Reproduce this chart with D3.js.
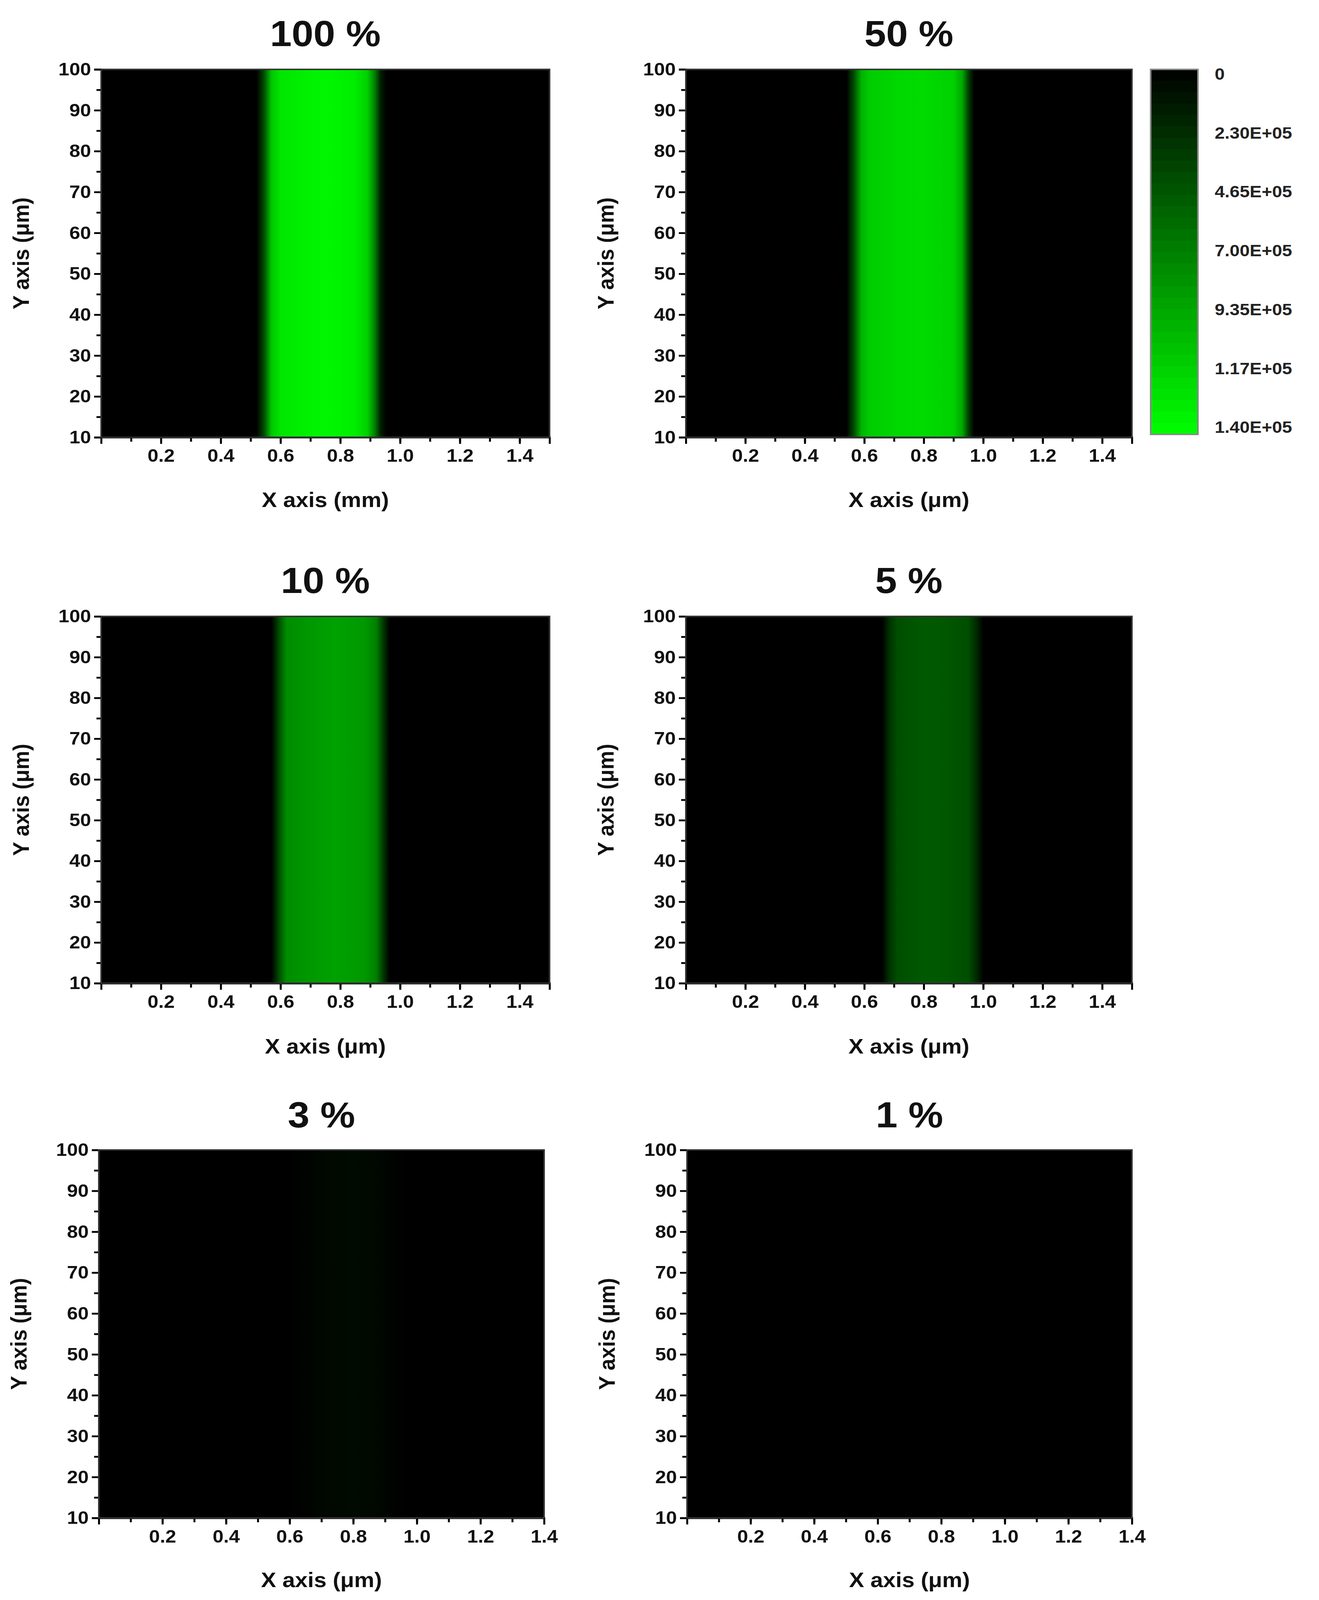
<!DOCTYPE html>
<html><head><meta charset="utf-8">
<script src="https://cdn.jsdelivr.net/npm/d3@7"></script>
<style>html,body{margin:0;padding:0;overflow:hidden;background:#fff}svg{display:block;width:100vw;height:100vh}text{font-family:"Liberation Sans",Arial,sans-serif}</style>
</head><body>
<svg id="c" viewBox="0 0 3377 4405" preserveAspectRatio="none"></svg>
<script>
const titles = ["100 %","50 %","10 %","5 %","3 %","1 %"];
const xLabels = ["X axis (mm)","X axis (μm)","X axis (μm)","X axis (μm)","X axis (μm)","X axis (μm)"];
const xMax = [1.5,1.5,1.5,1.5,1.4,1.4];
const xTicks = [0.2,0.4,0.6,0.8,1.0,1.2,1.4];
const yTicks = [10,20,30,40,50,60,70,80,90,100];
const cbLabels = ["0","2.30E+05","4.65E+05","7.00E+05","9.35E+05","1.17E+05","1.40E+05"];
// intensity profiles across x (fraction of max), constant along y
const prof100 = [[0,0],[0.52,0],[0.545,0.3],[0.57,0.78],[0.6,0.9],[0.7,0.95],[0.76,0.97],[0.85,0.93],[0.89,0.82],[0.915,0.5],[0.935,0.12],[0.955,0],[1.5,0]];
const prof50  = [[0,0],[0.54,0],[0.565,0.3],[0.59,0.7],[0.62,0.8],[0.72,0.85],[0.8,0.86],[0.9,0.82],[0.93,0.65],[0.95,0.25],[0.97,0],[1.5,0]];
const prof10  = [[0,0],[0.57,0],[0.595,0.3],[0.62,0.55],[0.7,0.6],[0.78,0.63],[0.88,0.6],[0.92,0.5],[0.945,0.2],[0.965,0],[1.5,0]];
const prof5   = [[0,0],[0.66,0],[0.685,0.2],[0.71,0.3],[0.8,0.35],[0.88,0.34],[0.95,0.3],[0.98,0.15],[1.0,0],[1.5,0]];
const prof3   = [[0,0],[0.6,0],[0.65,0.01],[0.72,0.03],[0.8,0.04],[0.87,0.03],[0.92,0.01],[0.96,0],[1.4,0]];
const prof1   = [[0,0],[1.4,0]];
const profiles = [prof100,prof50,prof10,prof5,prof3,prof1];

const panels = [
 {x0:259,x1:1407,y0:191,y1:1204,ty:127,lx:1396},
 {x0:1756,x1:2898,y0:191,y1:1204,ty:127,lx:1396},
 {x0:259,x1:1407,y0:1697,y1:2707,ty:1632,lx:2901},
 {x0:1756,x1:2898,y0:1697,y1:2707,ty:1632,lx:2901},
 {x0:253,x1:1393,y0:3166,y1:4179,ty:3104,lx:4370},
 {x0:1759,x1:2898,y0:3166,y1:4179,ty:3104,lx:4370}
];
const color = d3.scaleLinear().domain([0,1]).range(["#000000","#00ff00"]);
const svg = d3.select("#c");
const defs = svg.append("defs");

panels.forEach((p,i)=>{
  const x = d3.scaleLinear().domain([0,xMax[i]]).range([p.x0,p.x1]);
  const y = d3.scaleLinear().domain([10,100]).range([p.y1,p.y0]);
  const g = svg.append("g");
  const gid="g"+i;
  const lg = defs.append("linearGradient").attr("id",gid).attr("gradientUnits","userSpaceOnUse")
    .attr("x1",x(0)).attr("x2",x(xMax[i])).attr("y1",0).attr("y2",0);
  lg.selectAll("stop").data(profiles[i]).join("stop")
    .attr("offset",d=>d[0]/xMax[i]).attr("stop-color",d=>color(d[1]));
  g.append("rect").attr("x",x(0)).attr("y",y(100)).attr("width",x(xMax[i])-x(0)).attr("height",y(10)-y(100))
    .attr("fill",`url(#${gid})`);
  const minorX = d3.range(1, Math.round(xMax[i]*10)+1).map(k=>k/10);
  g.append("g").attr("transform",`translate(0,${p.y1})`)
    .call(d3.axisBottom(x).tickValues(minorX).tickSize(12).tickFormat(""))
    .call(a=>a.select(".domain").remove()).selectAll("line").attr("stroke-width",5);
  g.append("g").attr("transform",`translate(0,${p.y1})`)
    .call(d3.axisBottom(x).tickValues(xTicks).tickSize(18).tickPadding(14).tickFormat(d3.format(".1f")))
    .call(a=>{a.select(".domain").attr("stroke-width",5);a.selectAll("line").attr("stroke-width",5);
      a.selectAll("text").attr("font-size",50).attr("font-weight","bold").attr("fill","#111");});
  g.append("g").attr("transform",`translate(${p.x0},0)`)
    .call(d3.axisLeft(y).tickValues(d3.range(15,100,10)).tickSize(12).tickFormat(""))
    .call(a=>a.select(".domain").remove()).selectAll("line").attr("stroke-width",5);
  g.append("g").attr("transform",`translate(${p.x0},0)`)
    .call(d3.axisLeft(y).tickValues(yTicks).tickSize(18).tickPadding(8))
    .call(a=>{a.select(".domain").attr("stroke-width",5);a.selectAll("line").attr("stroke-width",5);
      a.selectAll("text").attr("font-size",50).attr("font-weight","bold").attr("fill","#111");});
  g.append("rect").attr("x",p.x0).attr("y",p.y0).attr("width",p.x1-p.x0).attr("height",p.y1-p.y0)
    .attr("fill","none").attr("stroke","#333").attr("stroke-width",4);
  svg.append("text").attr("x",(p.x0+p.x1)/2).attr("y",p.ty).attr("text-anchor","middle")
    .attr("font-size",100).attr("font-weight","bold").attr("fill","#111").text(titles[i]);
  svg.append("text").attr("x",(p.x0+p.x1)/2).attr("y",p.lx).attr("text-anchor","middle")
    .attr("font-size",58).attr("font-weight","bold").attr("fill","#111").text(xLabels[i]);
  svg.append("text").attr("text-anchor","middle")
    .attr("transform",`translate(${p.x0-185},${(p.y0+p.y1)/2}) rotate(-90)`)
    .attr("font-size",58).attr("font-weight","bold").attr("fill","#111").text("Y axis (μm)");
});

const cbY = d3.scaleLinear().domain([0,1]).range([191,1196]);
const steps = d3.range(0,1,1/32);
svg.append("g").selectAll("rect").data(steps).join("rect")
  .attr("x",2946).attr("width",121).attr("y",d=>cbY(d)).attr("height",cbY(1/32)-cbY(0)+1)
  .attr("fill",d=>color(d+1/64));
svg.append("rect").attr("x",2946).attr("y",191).attr("width",121).attr("height",1005)
  .attr("fill","none").attr("stroke","#888").attr("stroke-width",4);
const lblY = d3.scaleLinear().domain([0,cbLabels.length-1]).range([203,1176]);
svg.append("g").selectAll("text").data(cbLabels).join("text")
  .attr("x",3110).attr("y",(d,k)=>lblY(k)).attr("dy","0.35em")
  .attr("font-size",46).attr("font-weight","bold").attr("fill","#222").text(d=>d);
</script></body></html>
